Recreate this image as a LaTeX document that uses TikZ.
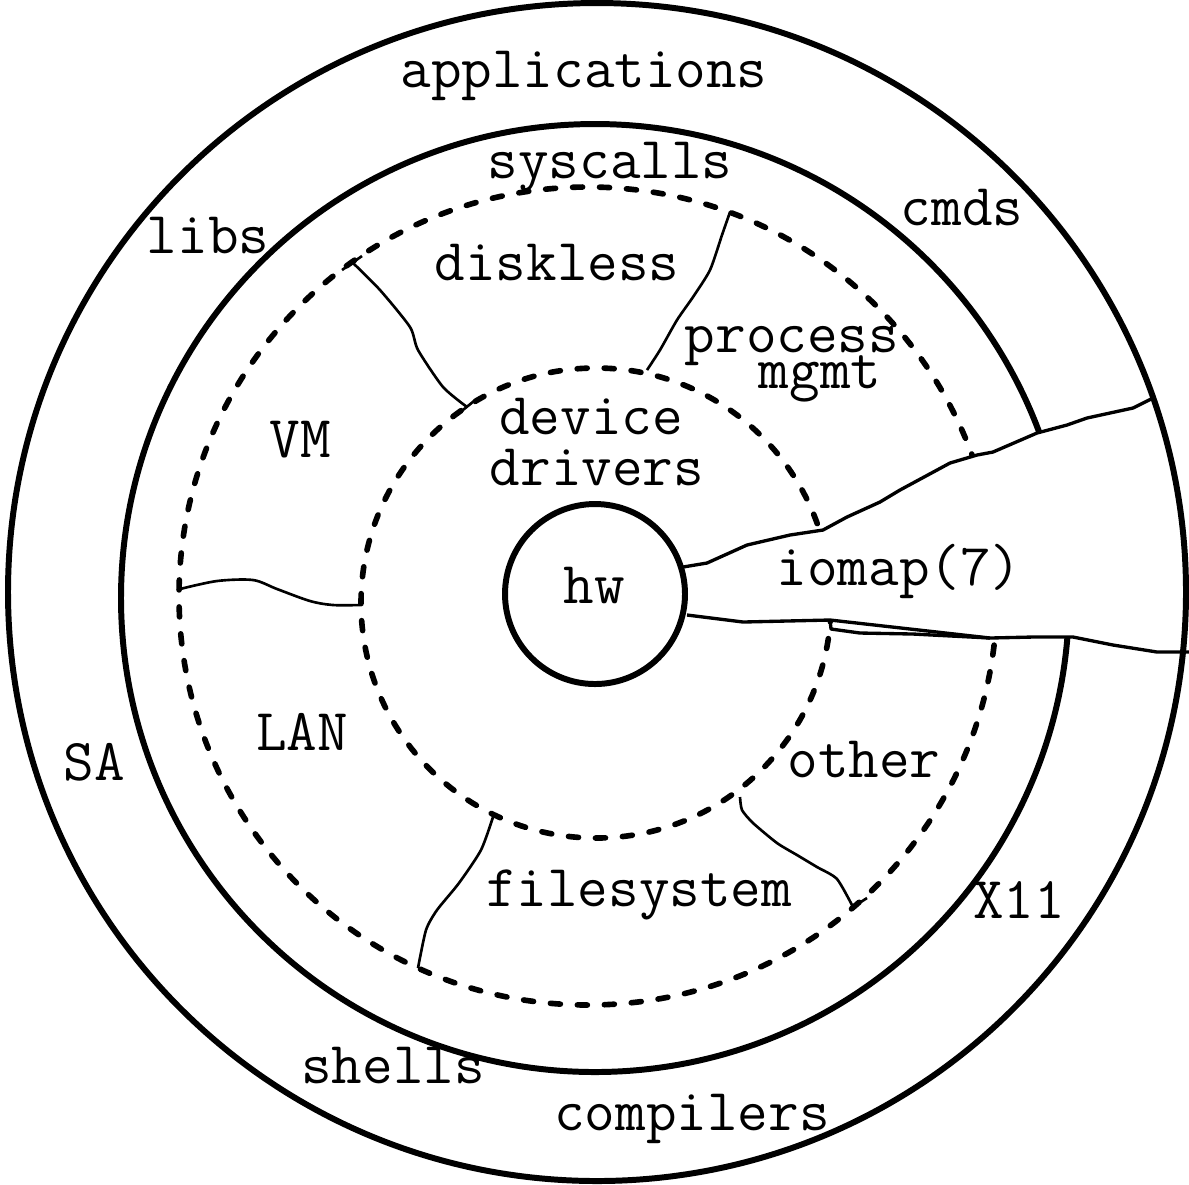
\documentclass[tikz,border=0pt]{standalone}
\begin{document}
\begin{tikzpicture}[x=0.1mm,y=-0.1mm,
  ring/.style={line width=1.7pt},
  dashring/.style={line width=1.6pt, line cap=round, dash pattern=on 1.0mm off 1.7mm},
  seam/.style={line width=0.75pt, line join=round},
  cut/.style={line width=0.95pt, line join=round},
  lbl/.style={font=\fontsize{16.9}{18}\selectfont\ttfamily, inner sep=0pt, anchor=base}]
\useasboundingbox (0,0) rectangle (1189,1184);
\fill[white] (0,0) rectangle (1189,1184);

% kernel ring and the two dashed layers
\draw[ring] (595,598) circle[radius=47.4mm];
\draw[dashring] (588,596) circle[radius=40.9mm];
\draw[dashring] (596,603) circle[radius=23.5mm];

% the iomap(7) passage from the hardware out to the edge
\fill[white] (683,567) -- (707,563) -- (747,545) -- (790,535) -- (823,530)
  -- (847,517) -- (880,502) -- (900,490) -- (950,463) -- (977,455) -- (993,452)
  -- (1037,433) -- (1067,425) -- (1087,418) -- (1133,408) -- (1153,398)
  -- (1300,390) -- (1300,660)
  -- (1189,652) -- (1157,652) -- (1113,645) -- (1073,637) -- (1033,637)
  -- (990,638) -- (913,630) -- (830,620) -- (743,622) -- (687,615) -- cycle;
\draw[cut] (683,567) -- (707,563) -- (747,545) -- (790,535) -- (823,530)
  -- (847,517) -- (880,502) -- (900,490) -- (950,463) -- (977,455) -- (993,452)
  -- (1037,433) -- (1067,425) -- (1087,418) -- (1133,408) -- (1153,398);
\draw[cut] (687,615) -- (743,622) -- (830,620) -- (910,629) -- (990,638)
  -- (1033,637) -- (1073,637) -- (1113,645) -- (1157,652) -- (1189,652);
\draw[cut] (830,620) -- (831,629) -- (860,633) -- (913,634) -- (990,638);

% outer ring
\draw[ring] (597,592) circle[radius=58.9mm];

% hardware core
\draw[ring, fill=white] (595,594) circle[radius=9mm];

% boundaries between the kernel subsystems
\draw[seam] plot[smooth, tension=0.4] coordinates {(352,262) (380,290) (410,327) (418,350) (443,387) (467,407)};
\draw[seam] plot[smooth, tension=0.4] coordinates {(730,212) (722,235) (710,270) (693,297) (677,320) (660,350) (647,370)};
\draw[seam] plot[smooth, tension=0.5] coordinates {(180,589) (217,581) (253,580) (277,589) (310,601) (333,605) (360,605)};
\draw[seam] plot[smooth, tension=0.4] coordinates {(493,817) (481,850) (459,883) (437,910) (426,930) (418,968)};
\draw[seam] plot[smooth, tension=0.4] coordinates {(740,797) (742,810) (753,823) (777,843) (797,855) (817,867) (837,879) (853,907)};
\draw[seam] (853,907) -- (867,898);
\draw[seam] (342,270) -- (362,256);
\draw[seam] (458,414) -- (474,401);

% labels
\node[lbl] (apps)  at (584,87)  {applications};
\node[lbl] (sysc)  at (610,178) {syscalls};
\node[lbl] (libs)  at (208,253) {libs};
\node[lbl] (cmds)  at (962,225) {cmds};
\node[lbl] (disk)  at (557,280) {diskless};
\node[lbl] (proc)  at (792,352) {process};
\node[lbl] (mgmt)  at (820,388) {mgmt};
\node[lbl] (vm)    at (300,457) {VM};
\node[lbl] (dev)   at (591,434) {device};
\node[lbl] (drv)   at (597,485) {drivers};
\node[lbl] (hw)    at (594,603) {hw};
\node[lbl] (iomap) at (899,585) {iomap(7)};
\node[lbl] (lan)   at (302,750) {LAN};
\node[lbl] (sa)    at (94,780)  {SA};
\node[lbl] (other) at (864,777) {other};
\node[lbl] (fs)    at (639,906) {filesystem};
\node[lbl] (x11)   at (1019,918) {X11};
\node[lbl] (sh)    at (393,1083) {shells};
\node[lbl] (cc)    at (692,1130) {compilers};
\end{tikzpicture}
\end{document}
